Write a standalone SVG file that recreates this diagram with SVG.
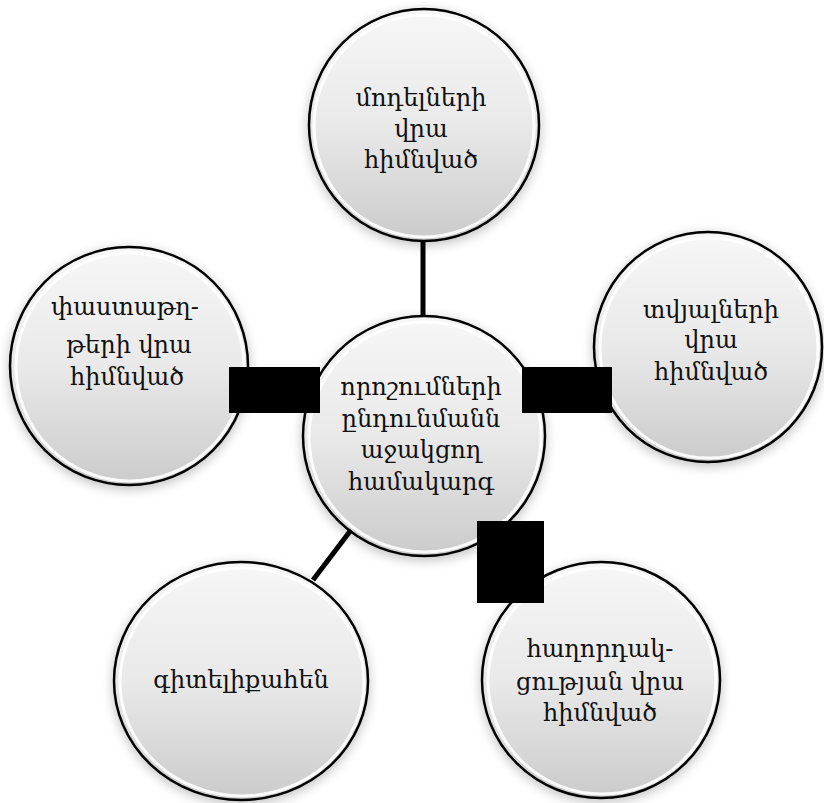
<svg xmlns="http://www.w3.org/2000/svg" width="824" height="803" viewBox="0 0 824 803">
<defs>
<linearGradient id="g" x1="0" y1="0" x2="0" y2="1">
<stop offset="0" stop-color="#f7f7f7"/>
<stop offset="0.5" stop-color="#e9e9e9"/>
<stop offset="1" stop-color="#cbcbcb"/>
</linearGradient>
<filter id="sh" x="-20%" y="-20%" width="140%" height="140%">
<feGaussianBlur in="SourceAlpha" stdDeviation="6"/>
<feComponentTransfer><feFuncA type="linear" slope="0.25"/></feComponentTransfer>
<feOffset dx="0" dy="3" result="b"/>
<feMerge><feMergeNode in="b"/><feMergeNode in="SourceGraphic"/></feMerge>
</filter>
</defs>
<style>
.disc{fill:url(#g);stroke:#000;stroke-width:2.5;filter:url(#sh)}
.rim{fill:none;stroke:#fff;stroke-width:3;opacity:0.9}
.t{font-family:"DejaVu Serif","Noto Serif",serif;font-size:24px;fill:#111;text-anchor:middle}
.ln{stroke:#000;stroke-width:5;fill:none}
</style>
<rect width="824" height="803" fill="#fff"/>
<g id="node-top">
<ellipse class="disc" cx="424" cy="125" rx="115" ry="116"/>
<ellipse class="rim" cx="424" cy="126" rx="110" ry="111"/>
<text class="t" x="421" y="106">մոդելների</text>
<text class="t" x="421" y="137">վրա</text>
<text class="t" x="421" y="168">հիմնված</text>
</g>
<g id="node-left">
<ellipse class="disc" cx="129" cy="366" rx="119" ry="119"/>
<ellipse class="rim" cx="130" cy="367" rx="114" ry="114"/>
<text class="t" x="125" y="315">փաստաթղ-</text>
<text class="t" x="129" y="353">թերի վրա</text>
<text class="t" x="127" y="385">հիմնված</text>
</g>
<g id="node-right">
<ellipse class="disc" cx="708" cy="347" rx="114" ry="115"/>
<ellipse class="rim" cx="709" cy="348" rx="109" ry="110"/>
<text class="t" x="711" y="318">տվյալների</text>
<text class="t" x="711" y="348">վրա</text>
<text class="t" x="711" y="380">հիմնված</text>
</g>
<g id="node-bottom-left">
<ellipse class="disc" cx="241" cy="681" rx="127" ry="119"/>
<ellipse class="rim" cx="242" cy="682" rx="122" ry="114"/>
<text class="t" x="241" y="688">գիտելիքահեն</text>
</g>
<g id="node-bottom-right">
<ellipse class="disc" cx="601" cy="680" rx="119" ry="118"/>
<ellipse class="rim" cx="602" cy="681" rx="114" ry="113"/>
<text class="t" x="600" y="657">հաղորդակ-</text>
<text class="t" x="600" y="690">ցության վրա</text>
<text class="t" x="600" y="721">հիմնված</text>
</g>
<g id="node-center">
<ellipse class="disc" cx="424" cy="436" rx="121" ry="120"/>
<ellipse class="rim" cx="425" cy="437" rx="116" ry="115"/>
<text class="t" x="421" y="395">որոշումների</text>
<text class="t" x="421" y="427">ընդունմանն</text>
<text class="t" x="421" y="458">աջակցող</text>
<text class="t" x="421" y="490">համակարգ</text>
</g>
<g id="connectors">
<line class="ln" x1="423" y1="241" x2="423" y2="316"/>
<line class="ln" x1="351" y1="530" x2="313" y2="580"/>
<rect x="229" y="367" width="91" height="46" fill="#000"/>
<rect x="522" y="367" width="90" height="46" fill="#000"/>
<rect x="477" y="521" width="67" height="82" fill="#000"/>
</g>
</svg>
